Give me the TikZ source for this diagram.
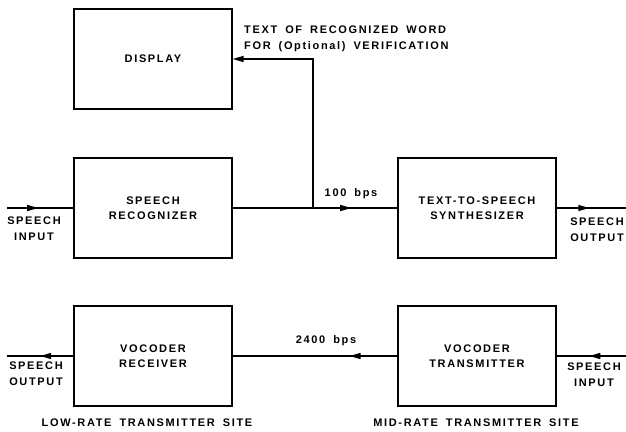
\documentclass[tikz,border=0pt]{standalone}
\usepackage{fontspec}
\newfontfamily\lblfont[LetterSpace=15,WordSpace=1.7]{Liberation Sans Bold}
\usetikzlibrary{arrows.meta,decorations.markings}
\tikzset{
  blk/.style={draw, line width=1.3pt, minimum width=158pt, minimum height=100pt,
    align=center, inner sep=0pt, font=\lblfont\fontsize{11}{15}\selectfont},
  lbl/.style={align=center, inner sep=0pt, font=\lblfont\fontsize{11}{15.5}\selectfont},
  wire/.style={line width=1.5pt},
  tipa/.tip={Triangle[length=11pt,width=6pt]},
  arr/.style={postaction={decorate}, decoration={markings,
    mark=at position #1 with {\arrow{tipa}}}}
}
\begin{document}
\begin{tikzpicture}[x=1pt,y=-1pt]
\useasboundingbox (0,0) rectangle (626,431);
% blocks
\node[blk] (disp) at (153,59) {DISPLAY};
\node[blk] (rec) at (153,208) {SPEECH\\RECOGNIZER};
\node[blk] (tts) at (477,208) {TEXT-TO-SPEECH\\SYNTHESIZER};
\node[blk] (vrx) at (153,356) {VOCODER\\RECEIVER};
\node[blk] (vtx) at (477,356) {VOCODER\\TRANSMITTER};
% free ends
\coordinate (inA) at (7,208);
\coordinate (outA) at (626,208);
\coordinate (br) at (313,208);
\coordinate (outB) at (7,356);
\coordinate (inB) at (626,356);
% connectors
\draw[wire, arr=0.47] (inA) -- (rec.west);
\draw[wire, arr=0.72] (rec.east) -- (tts.west);
\draw[wire, -tipa] (br) |- (disp.east);
\draw[wire, arr=0.47] (tts.east) -- (outA);
\draw[wire, arr=0.53] (inB) -- (vtx.east);
\draw[wire, arr=0.29] (vtx.west) -- (vrx.east);
\draw[wire, arr=0.50] (vrx.west) -- (outB);
% labels
\node[lbl, anchor=north west, align=left] (txt) at (244,26) {TEXT OF RECOGNIZED WORD\\FOR (Optional) VERIFICATION};
\node[lbl] (r100) at (351,194) {100 bps};
\node[lbl] (r2400) at (326,341) {2400 bps};
\node[lbl, anchor=north] (siA) at (34,217) {SPEECH\\INPUT};
\node[lbl, anchor=north] (soA) at (597,218) {SPEECH\\OUTPUT};
\node[lbl, anchor=north] (soB) at (36,362) {SPEECH\\OUTPUT};
\node[lbl, anchor=north] (siB) at (594,363) {SPEECH\\INPUT};
\node[lbl] (low) at (147,423) {LOW-RATE TRANSMITTER SITE};
\node[lbl] (mid) at (476,423) {MID-RATE TRANSMITTER SITE};
\end{tikzpicture}
\end{document}
